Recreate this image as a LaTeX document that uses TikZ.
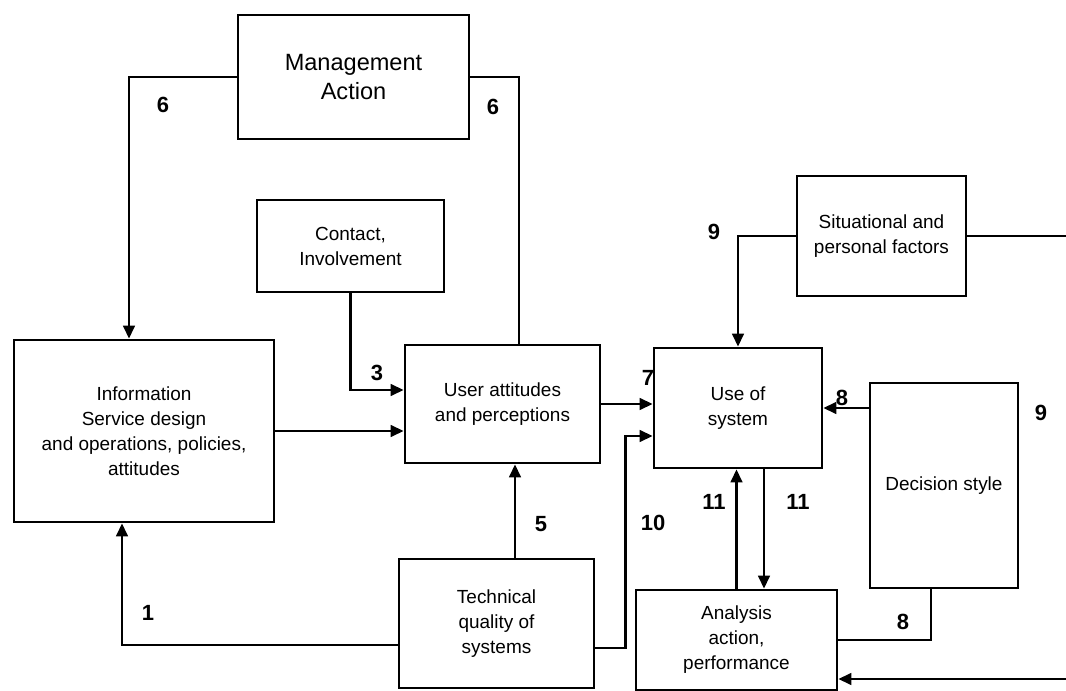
\documentclass[tikz,border=0pt]{standalone}
\usepackage{fontspec}
\setmainfont{Liberation Sans}
\usetikzlibrary{arrows.meta}

\begin{document}
\begin{tikzpicture}[x=0.2mm, y=-0.2mm, line width=1.5pt,
    box/.style={draw, align=center, inner sep=0pt, font=\fontsize{10.8}{14.2}\selectfont},
    arr/.style={-{Triangle[length=2.6mm,width=2.3mm]}},
    num/.style={font=\fontsize{12.5}{14}\selectfont\bfseries}]

    \useasboundingbox (0,0) rectangle (1066,691);

    \node [box, minimum width=46.2mm, minimum height=24.8mm, font=\fontsize{13.4}{16.5}\selectfont] (mgmt) at (353.5,77) {Management\\Action};
    \node [box, minimum width=37.4mm, minimum height=18.4mm] (contact) at (350.5,246) {Contact,\\Involvement};
    \node [box, minimum width=52mm, minimum height=36.4mm] (info) at (144,431) {Information\\Service design\\and operations, policies,\\attitudes};
    \node [box, minimum width=39mm, minimum height=23.6mm] (user) at (502.5,404) {User attitudes\\and perceptions};
    \node [box, minimum width=33.6mm, minimum height=24mm] (use) at (738,408) {Use of\\system};
    \node [box, minimum width=33.8mm, minimum height=24mm] (sit) at (881.5,236) {Situational and\\personal factors};
    \node [box, minimum width=29.6mm, minimum height=41mm] (dec) at (944,485.5) {Decision style};
    \node [box, minimum width=39mm, minimum height=25.8mm] (tech) at (496.5,623.5) {Technical\\quality of\\systems};
    \node [box, minimum width=40.2mm, minimum height=20mm] (anal) at (736.5,640) {Analysis\\action,\\performance};

    \coordinate (edgeA) at (1066,236);
    \coordinate (edgeB) at (1066,679);

    \draw [arr] (mgmt.west) -| ([xshift=-3mm]info.north);
    \draw (mgmt.east) -| ([xshift=3.3mm]user.north);
    \draw [arr] (contact.south) |- ([yshift=2.8mm]user.west);
    \draw [arr] (info.east) -- (info.east -| user.west);
    \draw [arr] ([xshift=3.7mm]tech.north) -- ([xshift=3.7mm]tech.north |- user.south);
    \draw [arr] ([yshift=-4.3mm]tech.west) -| ([xshift=-4.4mm]info.south);
    \draw [arr] (user.east) -- (user.east -| use.west);
    \draw [arr] ([yshift=-4.9mm]tech.east) -- ++(6mm,0) |- ([yshift=-5.6mm]use.west);
    \draw [arr] (sit.west) -| (use.north);
    \draw (sit.east) -- (edgeA);
    \draw [arr] (use.east -| dec.west) -- (use.east);
    \draw ([xshift=-2.6mm]dec.south) |- (anal.east);
    \draw [arr] (edgeB) -- (edgeB -| anal.east);
    \draw [arr] (anal.north) -- (anal.north |- use.south);
    \draw [arr] ([xshift=5.2mm]use.south) -- ([xshift=5.2mm]use.south |- anal.north);

    \node [num] (n6a) at (163,105) {6};
    \node [num] (n6b) at (493,107) {6};
    \node [num] (n3) at (377,373) {3};
    \node [num] (n5) at (541,524) {5};
    \node [num] (n1) at (148,613) {1};
    \node [num] (n7) at (648,378) {7};
    \node [num] (n10) at (653,523) {10};
    \node [num] (n9a) at (714,232) {9};
    \node [num] (n8a) at (842,398) {8};
    \node [num] (n9b) at (1041,413) {9};
    \node [num] (n8b) at (903,622) {8};
    \node [num] (n11a) at (714,502) {11};
    \node [num] (n11b) at (798,502) {11};

\end{tikzpicture}
\end{document}
